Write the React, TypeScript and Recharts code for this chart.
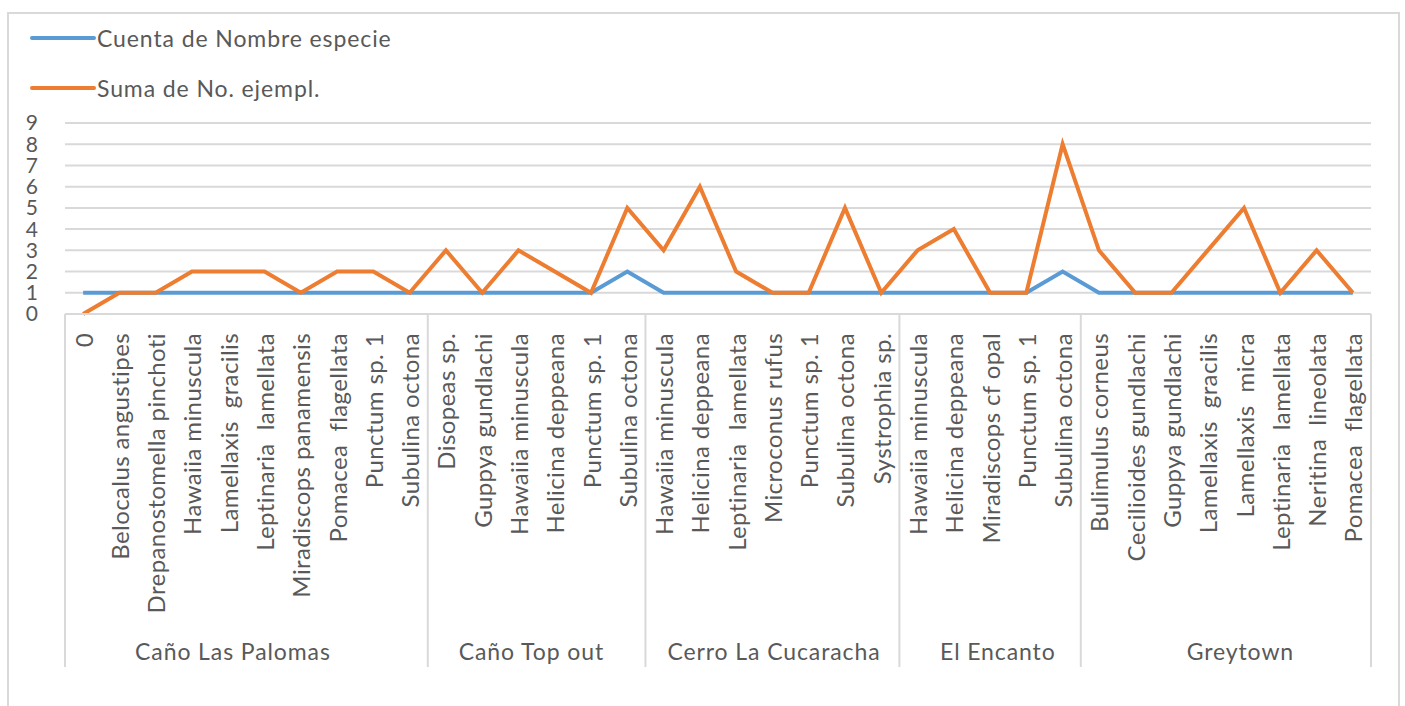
import React from "react";
import { LineChart, Line, XAxis, YAxis, CartesianGrid, Legend } from "recharts";

const categories = [
  "0", "Belocalus angustipes", "Drepanostomella pinchoti", "Hawaiia minuscula", "Lamellaxis  gracilis",
  "Leptinaria  lamellata", "Miradiscops panamensis", "Pomacea  flagellata", "Punctum sp. 1", "Subulina octona",
  "Disopeas sp.", "Guppya gundlachi", "Hawaiia minuscula", "Helicina deppeana", "Punctum sp. 1", "Subulina octona",
  "Hawaiia minuscula", "Helicina deppeana", "Leptinaria  lamellata", "Microconus rufus", "Punctum sp. 1", "Subulina octona", "Systrophia sp.",
  "Hawaiia minuscula", "Helicina deppeana", "Miradiscops cf opal", "Punctum sp. 1", "Subulina octona",
  "Bulimulus corneus", "Cecilioides gundlachi", "Guppya gundlachi", "Lamellaxis  gracilis", "Lamellaxis  micra",
  "Leptinaria  lamellata", "Neritina  lineolata", "Pomacea  flagellata",
];

const groupNames = ["Caño Las Palomas", "Caño Top out", "Cerro La Cucaracha", "El Encanto", "Greytown"];
const groupSizes = [10, 6, 7, 5, 8];

const cuentaValues = [
  1, 1, 1, 1, 1, 1, 1, 1, 1, 1,
  1, 1, 1, 1, 1, 2,
  1, 1, 1, 1, 1, 1, 1,
  1, 1, 1, 1, 2,
  1, 1, 1, 1, 1, 1, 1, 1,
];

const sumaValues = [
  0, 1, 1, 2, 2, 2, 1, 2, 2, 1,
  3, 1, 3, 2, 1, 5,
  3, 6, 2, 1, 1, 5, 1,
  3, 4, 1, 1, 8,
  3, 1, 1, 3, 5, 1, 3, 1,
];

const yTicks = [0, 1, 2, 3, 4, 5, 6, 7, 8, 9];

const seriesNames = { cuenta: "Cuenta de Nombre especie", suma: "Suma de No. ejempl." };

const data = categories.map((name, i) => ({ i, name, cuenta: cuentaValues[i], suma: sumaValues[i] }));

const boundaries: number[] = [];
const groupCenters: number[] = [];
{
  let start = 0;
  boundaries.push(-0.5);
  groupSizes.forEach((s) => {
    groupCenters.push(start + (s - 1) / 2);
    start += s;
    boundaries.push(start - 0.5);
  });
}
const catTicks = [...boundaries, ...categories.map((_, i) => i)];

const FONT = "Lato, 'Open Sans', sans-serif";
const TEXT = "#595959";
const GRID = "#d9d9d9";

const CatTick = (props: any) => {
  const { x, y, payload } = props;
  const v = payload.value;
  if (!Number.isInteger(v)) {
    return <line x1={x} x2={x} y1={y} y2={y + 353} stroke={GRID} strokeWidth={2} />;
  }
  return (
    <text
      transform={`translate(${x},${y + 19}) rotate(-90)`}
      textAnchor="end"
      dominantBaseline="central"
      fill={TEXT}
      fontSize={24}
      letterSpacing={0.4}
      fontFamily={FONT}
      style={{ whiteSpace: "pre" }}
    >
      {categories[v]}
    </text>
  );
};

const GroupTick = (props: any) => {
  const { x, y, payload } = props;
  const idx = groupCenters.indexOf(payload.value);
  return (
    <text x={x} y={y + 16} textAnchor="middle" fill={TEXT} fontSize={23} letterSpacing={0.9} fontFamily={FONT}>
      {groupNames[idx]}
    </text>
  );
};

const LegendContent = (props: any) => {
  const { payload } = props;
  return (
    <svg width={500} height={110} style={{ display: "block" }}>
      {(payload || []).map((p: any, k: number) => (
        <g key={k}>
          <line x1={32} x2={94} y1={38 + k * 50} y2={38 + k * 50} stroke={p.color} strokeWidth={4} strokeLinecap="round" />
          <text x={97} y={47 + k * 50} fill={TEXT} fontSize={23} letterSpacing={0.9} fontFamily={FONT}>
            {p.value}
          </text>
        </g>
      ))}
    </svg>
  );
};

export default function App() {
  return (
    <div style={{ position: "fixed", left: 0, top: 0, width: 1405, height: 706, overflow: "hidden", background: "#fff" }}>
      <div
        style={{
          position: "absolute",
          left: 7,
          top: 12,
          width: 1389,
          height: 760,
          border: `2px solid ${GRID}`,
        }}
      />
      <div style={{ position: "absolute", left: 0, top: 0 }}>
        <LineChart width={1405} height={706} data={data} margin={{ top: 123, right: 34, bottom: 0, left: 0 }}>
          <CartesianGrid xAxisId="cat" vertical={false} stroke={GRID} strokeWidth={2} />
          <XAxis
            xAxisId="cat"
            dataKey="i"
            type="number"
            domain={[-0.5, 35.5]}
            ticks={catTicks}
            interval={0}
            height={330}
            tickSize={0}
            tickMargin={0}
            tickLine={false}
            axisLine={{ stroke: GRID, strokeWidth: 2 }}
            tick={<CatTick />}
            allowDataOverflow
          />
          <XAxis
            xAxisId="grp"
            type="number"
            domain={[-0.5, 35.5]}
            ticks={groupCenters}
            interval={0}
            height={62}
            tickSize={0}
            tickMargin={0}
            tickLine={false}
            axisLine={false}
            tick={<GroupTick />}
            allowDataOverflow
          />
          <YAxis
            domain={[0, 9]}
            ticks={yTicks}
            interval={0}
            width={65}
            tickSize={0}
            tickMargin={27}
            axisLine={false}
            tickLine={false}
            tick={{ fill: TEXT, fontSize: 21, fontFamily: FONT }}
          />
          <Legend
            layout="vertical"
            align="center"
            verticalAlign="middle"
            wrapperStyle={{ left: 0, top: 0, width: 500, height: 110 }}
            content={<LegendContent />}
          />
          <Line
            xAxisId="cat"
            type="linear"
            dataKey="cuenta"
            name={seriesNames.cuenta}
            stroke="#5b9bd5"
            strokeWidth={4}
            dot={false}
            activeDot={false}
            isAnimationActive={false}
          />
          <Line
            xAxisId="cat"
            type="linear"
            dataKey="suma"
            name={seriesNames.suma}
            stroke="#ed7d31"
            strokeWidth={4}
            dot={false}
            activeDot={false}
            isAnimationActive={false}
          />
        </LineChart>
      </div>
    </div>
  );
}
